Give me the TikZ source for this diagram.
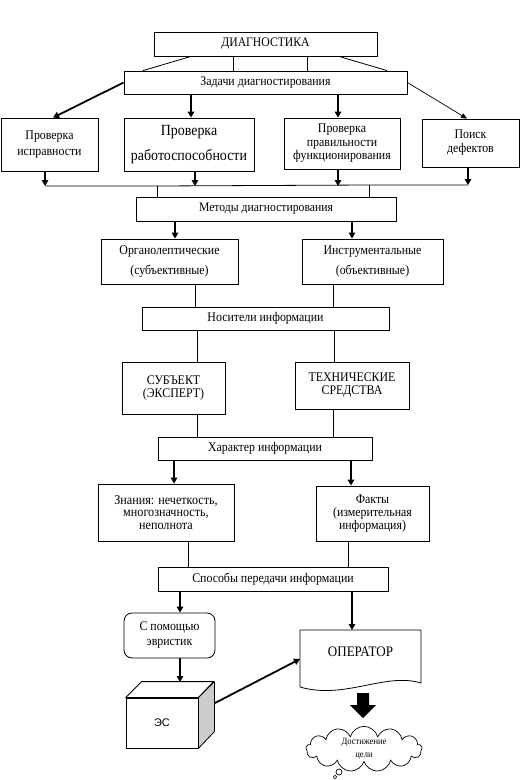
\documentclass[tikz,border=0pt]{standalone}
\usepackage{fontspec}
\setmainfont{Liberation Serif}[FakeStretch=0.9]
\newfontfamily\arialf{Liberation Sans}
\usetikzlibrary{arrows.meta,shapes.symbols,calc}
\tikzset{
  box/.style={draw, line width=0.8pt, inner sep=0pt, align=center, fill=white},
  ln/.style={line width=0.8pt},
  arr/.style={line width=1.8pt, -{Triangle[length=6pt,width=6.5pt]}},
  tarr/.style={line width=0.7pt, -{Triangle[length=6pt,width=5pt]}},
}
\newcommand\fs[2]{\fontsize{#1}{#2}\selectfont}
\newcommand\mybox[7][]{\node[box,minimum width={#5-#3},minimum height={#6-#4},#1] (#2) at ({(#3+#5)/2},{(#4+#6)/2}) {#7};}
\begin{document}
\begin{tikzpicture}[x=1pt,y=-1pt]
\useasboundingbox (0,0) rectangle (521,780);
\fill[white] (0,0) rectangle (521,780);

\mybox[font=\fs{13}{15}]{diag}{154}{32}{377}{56}{ДИАГНОСТИКА}
\mybox[font=\fs{13.2}{15}]{zad}{124}{71}{407}{94}{Задачи диагностирования}

\draw[ln] (diag.south -| 191,0) -- (zad.north -| 143,0);
\draw[ln] (diag.south -| 233,0) -- (zad.north -| 233,0);
\draw[ln] (diag.south -| 307,0) -- (zad.north -| 307,0);
\draw[ln] (diag.south -| 339,0) -- (zad.north -| 387,0);

\mybox[font=\fs{13.2}{16}]{p1}{1}{118}{98}{171}{Проверка\\исправности}
\mybox[font=\fs{15.5}{25}]{p2}{124}{118}{254}{171}{Проверка\\работоспособности}
\mybox[font=\fs{13.2}{13.5}]{p3}{284}{118}{400}{169}{Проверка\\правильности\\функционирования}
\mybox[font=\fs{13.2}{14}]{p4}{422}{119}{519}{167}{Поиск\\дефектов}

\draw[arr] (zad.west) -- (p1.north -| 53,0);
\draw[arr] (zad.south -| 191,0) -- (p2.north -| 191,0);
\draw[arr] (zad.south -| 338,0) -- (p3.north -| 338,0);
\draw[tarr] (zad.east) -- (p4.north -| 467,0);

\coordinate (b1) at (45,186);
\coordinate (b2) at (195,186);
\coordinate (b3) at (338,186);
\coordinate (b4) at (468,185);
\coordinate (v1) at (157,186);
\coordinate (v2) at (369,185);
\draw[arr] (p1.south -| b1) -- (b1);
\draw[arr] (p2.south -| b2) -- (b2);
\draw[arr] (p3.south -| b3) -- (b3);
\draw[arr] (p4.south -| b4) -- (b4);
\draw[ln] (b1) -- (v1) -- (v2) -- (b4);

\mybox[font=\fs{13}{15}]{met}{136}{197}{396}{221}{Методы диагностирования}
\draw[ln] (v1) -- (met.north -| v1);
\draw[ln] (v2) -- (met.north -| v2);

\mybox[font=\fs{13.2}{20}]{org}{101}{239}{238}{284}{Органолептические\\(субъективные)}
\mybox[font=\fs{13.2}{20}]{ins}{302}{239}{443}{284}{Инструментальные\\(объективные)}
\draw[arr] (met.south -| 175,0) -- (org.north -| 175,0);
\draw[arr] (met.south -| 352,0) -- (ins.north -| 352,0);

\mybox[font=\fs{13.2}{15}]{nos}{142}{307}{389}{330}{Носители информации}
\draw[ln] (org.south -| 195,0) -- (nos.north -| 195,0);
\draw[ln] (ins.south -| 333,0) -- (nos.north -| 333,0);

\mybox[font=\fs{13.2}{13}]{sub}{122}{362}{225}{414}{СУБЪЕКТ\\(ЭКСПЕРТ)}
\mybox[font=\fs{13.2}{13}]{teh}{295}{362}{409}{409}{ТЕХНИЧЕСКИЕ\\СРЕДСТВА}
\draw[ln] (nos.south -| 197,0) -- (sub.north -| 197,0);
\draw[ln] (nos.south -| 334,0) -- (teh.north -| 334,0);

\mybox[font=\fs{13.2}{15}]{har}{158}{437}{372}{460}{Характер информации}
\draw[ln] (sub.south -| 197,0) -- (har.north -| 197,0);
\draw[ln] (teh.south -| 333,0) -- (har.north -| 333,0);

\mybox[font=\fs{13.5}{12.5}]{zna}{98}{484}{234}{541}{Знания: нечеткость,\\многозначность,\\неполнота}
\mybox[font=\fs{13.2}{13}]{fak}{316}{486}{429}{541}{Факты\\(измерительная\\информация)}
\draw[arr] (har.south -| 174,0) -- (zna.north -| 174,0);
\draw[arr] (har.south -| 351,0) -- (fak.north -| 351,0);

\mybox[font=\fs{13.2}{15}]{spo}{158}{567}{388}{591}{Способы передачи информации}
\draw[ln] (zna.south -| 188,0) -- (spo.north -| 188,0);
\draw[ln] (fak.south -| 348,0) -- (spo.north -| 348,0);

\mybox[font=\fs{13.2}{15},rounded corners=8pt]{pom}{124}{613}{215}{658}{С помощью\\эвристик}
\draw[arr] (spo.south -| 180,0) -- (pom.north -| 180,0);

% cube
\mybox[font=\arialf\fs{11}{13}]{es}{126}{698}{198}{748}{ЭС}
\draw[ln, fill=white, line join=round] (es.north west) -- ++(16,-16) -- ++(72,0) -- (es.north east) -- cycle;
\draw[ln, fill=gray!40, line join=round] (es.north east) -- ++(16,-16) -- ++(0,50) -- (es.south east) -- cycle;
\coordinate (estop) at (180,682);
\draw[arr] (pom.south -| 180,0) -- (estop);

% operator (document shape)
\node[inner sep=0pt, font=\fs{14.5}{16}] (oper) at (360.5,652) {ОПЕРАТОР};
\coordinate (optop) at (352,630);
\coordinate (opleft) at (300,659);
\draw[ln, line join=round] (300,630) -- (421,630) -- (421,683)
   .. controls (385,672) and (345,700) .. (300,687) -- cycle;
\draw[arr] (spo.south -| optop) -- (optop);
\coordinate (esr) at (215,703);
\draw[arr] (esr) -- (opleft);

% block arrow
\fill (357,693) -- (369,693) -- (369,705) -- (376,705) -- (363,718) -- (350,705) -- (357,705) -- cycle;

% cloud
\node[cloud, draw, line width=0.7pt, cloud puffs=13, aspect=3, inner sep=0pt,
      minimum width=116pt, minimum height=40pt, align=center, font=\fs{9.5}{13}] (goal) at (364,749) {Достижение\\цели};
\draw[line width=0.7pt] (339,772) circle[radius=3pt];
\draw[line width=0.6pt] (335,777) circle[radius=1.8pt];
\end{tikzpicture}
\end{document}
